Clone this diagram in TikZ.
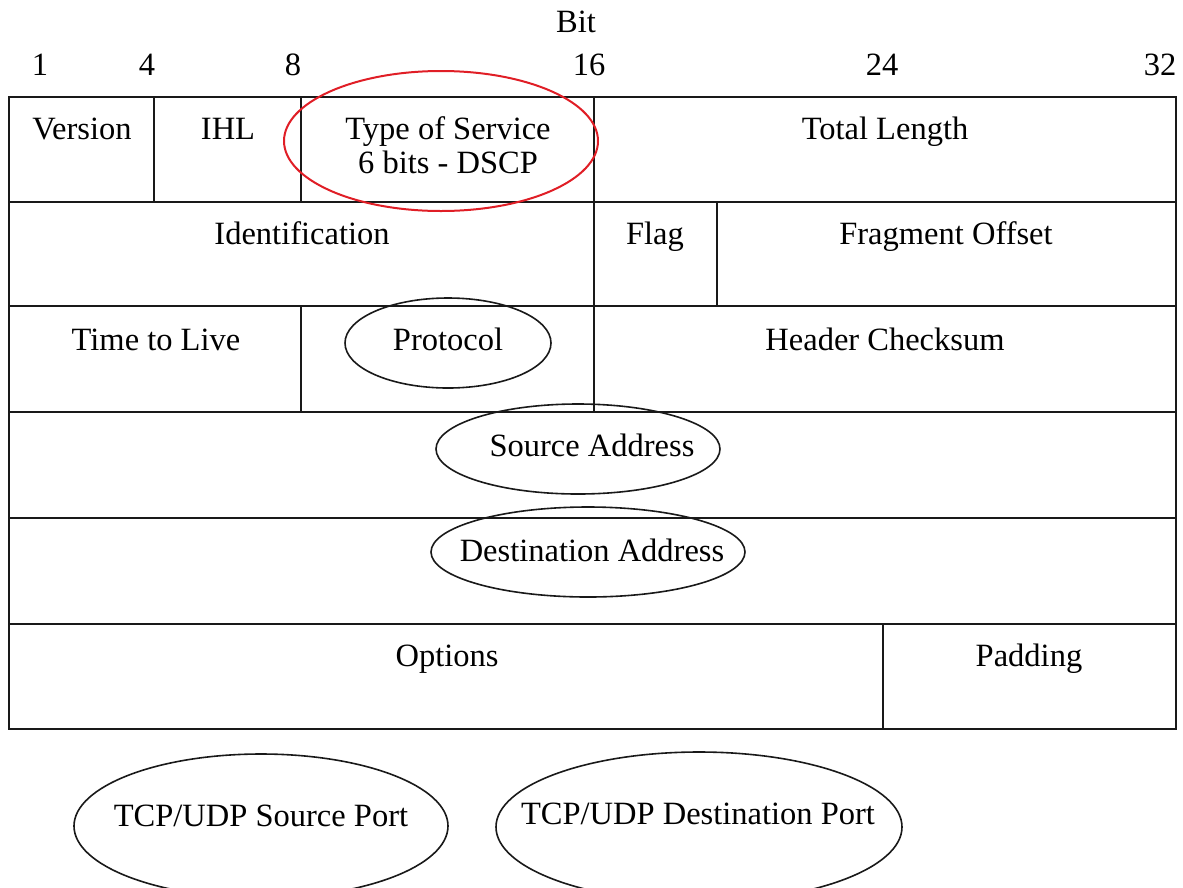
\documentclass[tikz,border=0pt]{standalone}
\usepackage{fontspec}
\setmainfont{Liberation Serif}
\definecolor{markred}{RGB}{224,30,38}
\begin{document}
\begin{tikzpicture}[x=1pt,y=-1pt,
  grid/.style={line width=1.7pt,black!90},
  ring/.style={line width=1.6pt,black!90},
  lbl/.style={anchor=base,inner sep=0pt,font=\fontsize{32.5}{38}\selectfont},
]
\useasboundingbox (0,0) rectangle (1183,887);
\clip (0,0) rectangle (1183,887);

% bit ruler
\node[lbl] (bit) at (576,32) {Bit};
\node[lbl] (b1)  at (40,75)   {1};
\node[lbl] (b4)  at (147,75)  {4};
\node[lbl] (b8)  at (293,75)  {8};
\node[lbl] (b16) at (589,75)  {16};
\node[lbl] (b24) at (882,75)  {24};
\node[lbl] (b32) at (1160,75) {32};

% header grid: outer frame and row separators
\draw[grid] (9,97) rectangle (1176,729);
\foreach \yy in {202,306,412,518,624}
  \draw[grid] (9,\yy) -- (1176,\yy);
% field separators
\draw[grid] (154,97) -- (154,202);
\draw[grid] (301,97) -- (301,202);
\draw[grid] (594,97) -- (594,412);
\draw[grid] (717,202) -- (717,306);
\draw[grid] (301,306) -- (301,412);
\draw[grid] (883,624) -- (883,729);

% field names
\node[lbl] (ver)   at (82,139)   {Version};
\node[lbl] (ihl)   at (228,139)  {IHL};
\node[lbl] (tos)   at (448,139)  {Type of Service};
\node[lbl] (dscp)  at (448,173)  {6 bits - DSCP};
\node[lbl] (tlen)  at (885,139)  {Total Length};
\node[lbl] (ident) at (302,244)  {Identification};
\node[lbl] (flag)  at (655,244)  {Flag};
\node[lbl] (frag)  at (946,244)  {Fragment Offset};
\node[lbl] (ttl)   at (156,350)  {Time to Live};
\node[lbl] (proto) at (448,350)  {Protocol};
\node[lbl] (chk)   at (885,350)  {Header Checksum};
\node[lbl] (src)   at (592,456)  {Source Address};
\node[lbl] (dst)   at (592,561)  {Destination Address};
\node[lbl] (opt)   at (447,666)  {Options};
\node[lbl] (pad)   at (1029,666) {Padding};
\node[lbl] (sport) at (261,826)  {TCP/UDP Source Port};
\node[lbl] (dport) at (698,824)  {TCP/UDP Destination Port};

% highlight rings
\draw[line width=2pt,markred] (441,141) ellipse [x radius=157, y radius=70];
\draw[ring] (448,343) ellipse [x radius=103, y radius=45];
\draw[ring] (578,449) ellipse [x radius=142, y radius=45];
\draw[ring] (588,552) ellipse [x radius=157, y radius=45];
\draw[ring] (261,826) ellipse [x radius=187, y radius=72];
\draw[ring] (699,827) ellipse [x radius=203, y radius=75];
\end{tikzpicture}
\end{document}
